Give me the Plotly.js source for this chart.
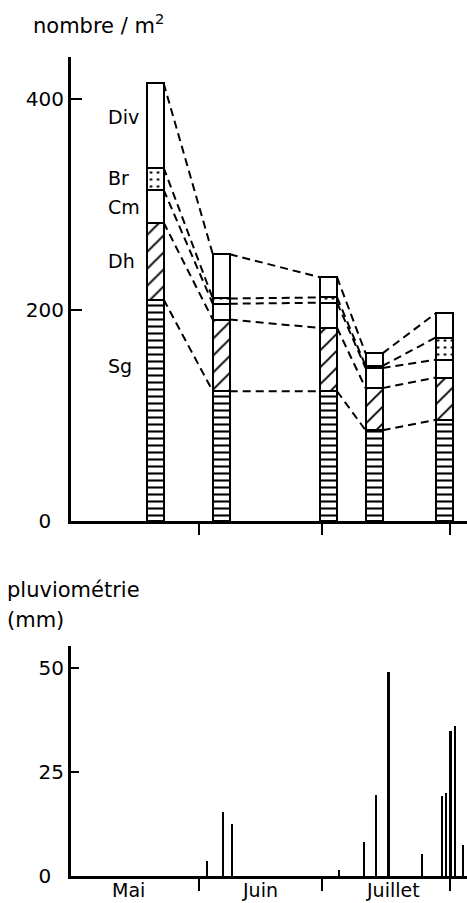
<!DOCTYPE html>
<html><head><meta charset="utf-8">
<script src="https://cdn.plot.ly/plotly-3.0.1.min.js"></script>
<style>html,body{margin:0;padding:0;background:#fff}#chart{width:467px;height:903px}</style>
</head><body><div id="chart"></div>
<script>
// ---- data ----
const sampleDates = ['2000-05-21 12:00','2000-06-06 12:00','2000-07-02 12:00','2000-07-13 12:00','2000-07-30 12:00'];
const groups = ['Sg','Dh','Cm','Br','Div'];
const Sg  = [210,123,123,86,96];
const Dh  = [73,68,60,40,40];
const Cm  = [31,15,24,19,17];
const Br  = [21,5,5,2,21];
const Div = [80,42,19,12,23];

const rainDates = ['2000-06-03','2000-06-07','2000-06-09','2000-07-05','2000-07-11','2000-07-14','2000-07-17','2000-07-25','2000-07-30','2000-07-31','2000-08-01','2000-08-02','2000-08-04'];
const rainMm    = [3.6,15.4,12.6,1.5,8.2,19.4,49,5.3,19.2,20,34.7,36,7.5];

const monthStarts = ['2000-06-01','2000-07-01','2000-08-01'];
const monthLabels = ['Mai','Juin','Juillet'];
const monthMid    = ['2000-05-15','2000-06-16','2000-07-18'];

const densTicks = [0,200,400];
const rainTicks = [0,25,50];

// ---- drawing ----
const series = {Sg, Dh, Cm, Br, Div};
const DAY = 864e5;
const barW = 4.1 * DAY;
const toMs = s => Date.parse(s.replace(' ','T') + (s.length > 10 ? ':00Z' : 'T00:00:00Z'));
const patterns = {
  Sg:  {shape:'-', size:7,  solidity:0.3},
  Dh:  {shape:'/', size:12, solidity:0.16},
  Cm:  null,
  Br:  {shape:'.', size:7,  solidity:0.12},
  Div: null
};
const traces = [];
groups.forEach(g => {
  const m = {color:'#fff', line:{color:'#000', width:2}};
  if (patterns[g]) m.pattern = Object.assign({fgcolor:'#000', bgcolor:'#fff', fillmode:'replace'}, patterns[g]);
  traces.push({type:'bar', name:g, x:sampleDates, y:series[g], width:barW, marker:m,
               xaxis:'x', yaxis:'y', hoverinfo:'skip', showlegend:false});
});
// dashed links between cumulative levels
const centers = sampleDates.map(toMs);
let cum = sampleDates.map(() => 0);
groups.forEach(g => {
  cum = cum.map((c,i) => c + series[g][i]);
  const xs = [], ys = [];
  for (let i = 0; i < centers.length - 1; i++) {
    xs.push(centers[i] + barW/2, centers[i+1] - barW/2, null);
    ys.push(cum[i], cum[i+1], null);
  }
  traces.push({type:'scatter', mode:'lines', x:xs, y:ys, xaxis:'x', yaxis:'y',
               line:{color:'#000', width:2, dash:'8px,5px'}, hoverinfo:'skip', showlegend:false});
});
// rainfall
traces.push({type:'bar', x:rainDates, y:rainMm, width:0.5*DAY, marker:{color:'#000', line:{width:0}},
             xaxis:'x2', yaxis:'y2', hoverinfo:'skip', showlegend:false});

const F = 'DejaVu Sans';
const xCommon = {type:'date', domain:[0.151,1], range:['2000-05-01','2000-08-05'], showline:true,
  linecolor:'#000', linewidth:2.5, showgrid:false, zeroline:false, automargin:false,
  ticks:'outside', tickvals:monthStarts, ticklen:11, tickwidth:2, tickcolor:'#000', showticklabels:false};
const yCommon = {showline:true, linecolor:'#000', linewidth:2.5, showgrid:false, zeroline:false,
  ticks:'inside', tickwidth:2, tickcolor:'#000', tickfont:{size:20, family:F, color:'#000'}, automargin:false};

const yp = py => (903 - py) / 903;
const xp = px => px / 467;
const ann = (text, x, y, size) => ({text, xref:'paper', yref:'paper', x:xp(x), y:yp(y), xanchor:'left', yanchor:'middle',
  showarrow:false, font:{size, family:F, color:'#000'}});

const monthAnns = monthLabels.map((t, i) => ({text:t, xref:'x2', yref:'paper', x:monthMid[i], y:yp(890),
  xanchor:'center', yanchor:'middle', showarrow:false, font:{size:19, family:F, color:'#000'}}));

const layout = {
  width:467, height:903, margin:{l:0,r:0,t:0,b:0}, paper_bgcolor:'#fff', plot_bgcolor:'#fff',
  barmode:'stack', bargap:0, font:{family:F, color:'#000'},
  xaxis: Object.assign({}, xCommon, {anchor:'y'}),
  yaxis: Object.assign({}, yCommon, {domain:[yp(521), yp(57)], range:[0,440], tickvals:densTicks,
    ticktext:densTicks.map(v => v === 0 ? '0\u00a0\u00a0' : String(v)), ticklen:11, anchor:'x'}),
  xaxis2: Object.assign({}, xCommon, {anchor:'y2', ticklen:12}),
  yaxis2: Object.assign({}, yCommon, {domain:[yp(876), yp(646)], range:[0,55.2], tickvals:rainTicks,
    ticktext:rainTicks.map(v => v === 0 ? '0\u00a0\u00a0' : String(v)), ticklen:8, anchor:'x2'}),
  annotations: [
    ann('nombre / m<sup>2</sup>', 31, 24, 21),
    ann('pluviométrie', 5, 590, 21),
    ann('(mm)', 5, 620, 21),
    ann('Div', 106, 117, 19),
    ann('Br', 106, 178, 19),
    ann('Cm', 106, 207, 19),
    ann('Dh', 106, 261, 19),
    ann('Sg', 106, 366, 19)
  ].concat(monthAnns)
};
Plotly.newPlot('chart', traces, layout, {staticPlot:true, displayModeBar:false});
</script></body></html>
